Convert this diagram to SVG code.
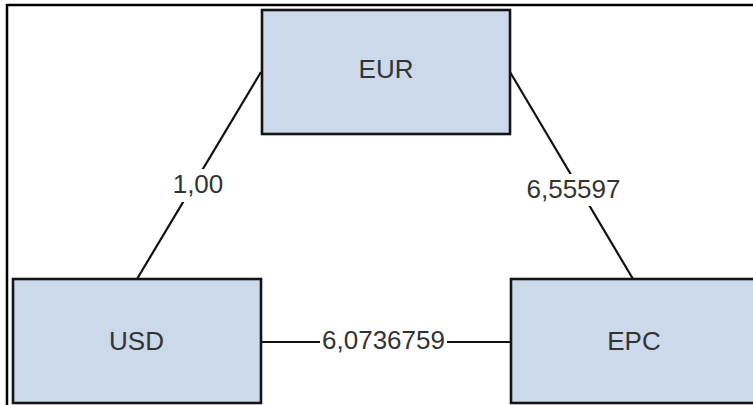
<svg xmlns="http://www.w3.org/2000/svg" width="753" height="405" viewBox="0 0 753 405">
  <style>
    .box { fill: #ccd9ea; stroke: #141414; stroke-width: 2.6; }
    .lbl { font-family: "Liberation Sans", Arial, sans-serif; font-size: 26px; fill: #333333; text-anchor: middle; }
    .edge { stroke: #111111; stroke-width: 2.2; fill: none; }
    .bg { fill: #ffffff; }
    .frame { stroke: #000000; stroke-width: 2.5; fill: none; }
  </style>
  <rect width="753" height="405" fill="#ffffff"/>
  <g id="frame">
    <line class="frame" x1="7" y1="5" x2="753" y2="5"/>
    <line class="frame" x1="7" y1="4" x2="7" y2="405"/>
  </g>
  <g id="connectors">
    <g id="edge-eur-usd">
      <line class="edge" x1="261" y1="72" x2="137" y2="279"/>
      <rect class="bg" x="172" y="169" width="53" height="33"/>
      <text class="lbl" x="198" y="193">1,00</text>
    </g>
    <g id="edge-eur-epc">
      <line class="edge" x1="510" y1="72" x2="633" y2="279"/>
      <rect class="bg" x="524" y="174" width="99" height="32"/>
      <text class="lbl" x="573.5" y="198">6,55597</text>
    </g>
    <g id="edge-usd-epc">
      <line class="edge" x1="261" y1="342" x2="510" y2="342"/>
      <rect class="bg" x="320" y="328" width="127" height="26"/>
      <text class="lbl" x="383.5" y="348.5">6,0736759</text>
    </g>
  </g>
  <g id="node-eur">
    <rect class="box" x="262" y="10" width="248" height="124"/>
    <text class="lbl" x="386" y="78">EUR</text>
  </g>
  <g id="node-usd">
    <rect class="box" x="13" y="279" width="248" height="124"/>
    <text class="lbl" x="136.5" y="350">USD</text>
  </g>
  <g id="node-epc">
    <rect class="box" x="511" y="279" width="248" height="124"/>
    <text class="lbl" x="634" y="349.5">EPC</text>
  </g>
</svg>
